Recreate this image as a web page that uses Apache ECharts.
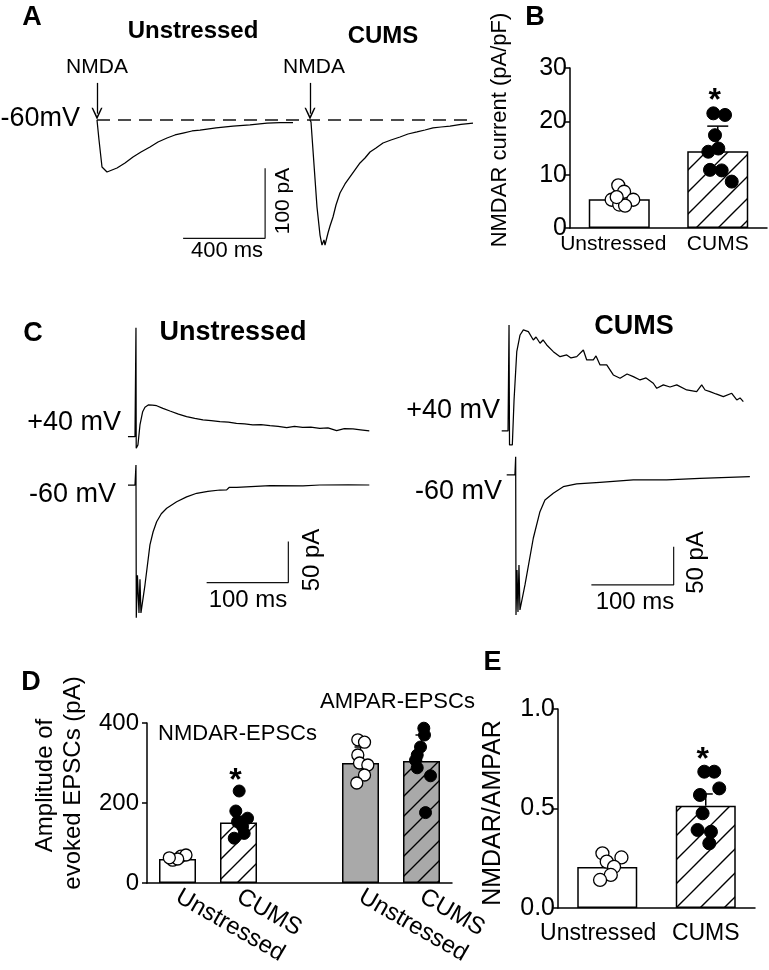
<!DOCTYPE html>
<html><head><meta charset="utf-8">
<script src="https://cdn.jsdelivr.net/npm/echarts@6/dist/echarts.min.js"></script>
<style>html,body{margin:0;padding:0;background:#fff}#c{width:769px;height:970px}</style>
</head><body><div id="c"></div><script>
// ---------------- DATA ----------------
// Panel A: whole-cell NMDA currents (time ms, current pA)
const aTraceUnstressed = [[0,0],[9.8,-28.6],[24.4,-67.1],[48.8,-74.3],[73.2,-71.4],[97.6,-68.6],[136.6,-61.4],[175.6,-52.9],[214.6,-45.7],[258.5,-38.6],[297.6,-31.4],[341.5,-25.7],[380.5,-21.4],[419.5,-18.6],[463.4,-15.7],[502.4,-14.3],[580.5,-11.4],[663.4,-8.6],[746.3,-7.1],[829.3,-4.3],[892.7,-3.6],[956.1,-3.6]];
const aTraceCums = [[0,0],[4.9,-2.9],[34.1,-124.3],[48.8,-164.3],[58.5,-178.6],[63.4,-181.4],[68.3,-171.4],[73.2,-178.6],[87.8,-161.4],[97.6,-151.4],[112.2,-138.6],[126.8,-121.4],[146.3,-104.3],[170.7,-91.4],[195.1,-81.4],[219.5,-71.4],[243.9,-61.4],[268.3,-54.3],[292.7,-45.7],[322,-40],[356.1,-32.9],[395.1,-28.6],[439,-24.3],[478,-20],[522,-17.1],[561,-14.3],[600,-11.4],[639,-10],[682.9,-8.6],[736.6,-6.4],[795.1,-4.3]];
const aBaseline = [[0,0],[1834,0]];
const aScaleMs = 400, aScalePa = 100;

// Panel C: evoked EPSCs (time ms, current pA)
const cUnsPos40 = [[-9.8,0],[-1.2,0],[0,133],[0.3,-14],[2.4,-10],[4.9,14.3],[8.2,30.5],[11,36],[15,38.7],[20,38.5],[25.3,37.8],[33,34.5],[41.6,31.3],[52,27.5],[62,24.4],[72,22.3],[82,20.4],[92,19.5],[102.8,18.3],[113,17.8],[123,16.3],[133,15.5],[143,14.3],[153,14.8],[164,13.4],[174,12.5],[184.5,11],[194,12.6],[204,11.5],[214,11.8],[225,10.2],[235,10.8],[245.6,7.3],[255,9.8],[265.6,9.4],[275,8.4],[285.6,7]];
const cUnsNeg60 = [[-9.8,0],[-1.2,0],[0,24.4],[0.4,-162],[1.8,-110],[3.7,-156],[4.9,-115],[6.1,-156],[11,-122],[17.1,-73],[21,-57],[25.3,-44.8],[31,-35],[37.6,-28.4],[49.8,-20.4],[62,-14.5],[74.3,-10.1],[88,-7.8],[102.8,-6.1],[111,-6],[114,-3],[123.3,-2.8],[164,-0.9],[204.4,-1.2],[225,0],[260,0.3],[285.6,0]];
const cCumsPos40 = [[-8.9,0],[-1.2,0],[0,138.4],[0.6,-18.3],[4,-18.3],[6.1,40.5],[9.4,103.5],[13.4,125.3],[17.4,131.9],[23.5,129.6],[29.5,118.8],[32.8,122.7],[37.7,114.5],[41.3,118.8],[45.8,112.3],[53.8,103.5],[62,97],[70.1,99.2],[75.3,95.3],[82.3,97],[90.3,105.7],[94.4,92.7],[102.4,92.7],[105.7,97.9],[110.6,86.2],[118.7,86.2],[126.7,73.1],[134.9,68.8],[143.4,74.4],[151,70.9],[159.2,66.6],[166.5,69.2],[175.3,62.3],[179.5,55.7],[187.5,60.1],[195.6,57.4],[203.8,60.1],[215.9,53.5],[228,51.3],[234.1,60.1],[238.2,53.5],[244.2,51.3],[251.5,48.3],[260.4,44.8],[270.6,49.2],[276.7,40.5],[280.7,43.1],[284.7,38.3]];
const cCumsNeg60 = [[-10.9,0],[-0.9,0],[0,23.9],[0.4,-182.8],[1.6,-124],[2.8,-178.9],[4,-117.5],[5.2,-176.2],[11.3,-143.6],[21.4,-82.6],[29.5,-47.9],[35.6,-32.6],[45.7,-23.9],[57.8,-15.3],[74.1,-11.7],[102.4,-9.5],[142.9,-6.5],[183.5,-6.5],[223.9,-4.3],[284.6,-2.2]];
const cScaleMs = 100, cScalePa = 50;

// Bar panels
const groups2 = ['Unstressed', 'CUMS'];
// B: NMDAR current (pA/pF)
const bMeans = [5.4, 14.4];
const bErr = [0.6, 4.7];
const bSig = [false, true];
const bPtsUns = [8.0, 6.8, 5.3, 5.3, 4.4, 4.2, 5.8];
const bPtsCums = [21.5, 21.2, 17.4, 14.9, 14.3, 10.9, 10.8, 8.7];
// D: amplitude of evoked EPSCs (pA)
const dCategories = ['Unstressed', 'CUMS', '', 'Unstressed', 'CUMS'];
const dMeans = [60, 151, null, 300, 305];
const dErr = [5, 16, null, 40, 65];
const dSig = [false, true, false, false, false];
const dPtsNmdaUns = [57, 67, 70, 60, 63];
const dPtsNmdaCums = [230, 180, 162, 153, 141, 112, 124];
const dPtsAmpaUns = [358, 352, 320, 300, 295, 270, 250];
const dPtsAmpaCums = [387, 370, 340, 320, 307, 288, 268, 176];
// E: NMDAR/AMPAR ratio
const eMeans = [0.206, 0.514];
const eErr = [0.02, 0.059];
const eSig = [false, true];
const ePtsUns = [0.275, 0.254, 0.233, 0.207, 0.166, 0.141];
const ePtsCums = [0.685, 0.685, 0.601, 0.568, 0.476, 0.392, 0.383, 0.325];

// horizontal jitter of dots (category units, layout only)
const jitBUns = [-0.01, 0.049, -0.077, 0.142, 0, 0.059, -0.026];
const jitBCums = [-0.045, 0.074, -0.028, 0.006, -0.096, -0.079, 0.04, 0.142];
const jitD0 = [-0.079, 0.057, 0.139, 0.003, -0.134];
const jitD1 = [0.011, -0.044, 0.148, -0.016, 0.066, -0.07, 0.093];
const jitD3 = [-0.044, 0.066, -0.044, -0.016, 0.12, 0.066, -0.061];
const jitD4 = [0.038, 0.049, -0.016, -0.07, -0.098, -0.07, 0.148, 0.066];
const jitEUns = [-0.049, 0.144, -0.005, 0.069, 0.036, -0.073];
const jitECums = [-0.015, 0.086, 0.137, -0.059, -0.032, -0.083, 0.053, 0.036];

// ---------------- HELPERS ----------------
const FONT = "'Liberation Sans', Arial, Helvetica, sans-serif";
const BLACK = '#000';
const GRAY = '#a9a9a9';

function hatch(bg, size) {
  const c = document.createElement('canvas');
  c.width = size; c.height = size;
  const g = c.getContext('2d');
  g.fillStyle = bg; g.fillRect(0, 0, size, size);
  g.strokeStyle = '#000'; g.lineWidth = 1.4;
  g.beginPath();
  g.moveTo(0, size); g.lineTo(size, 0);
  g.moveTo(-3, 3); g.lineTo(3, -3);
  g.moveTo(size - 3, size + 3); g.lineTo(size + 3, size - 3);
  g.stroke();
  return { image: c, repeat: 'repeat' };
}

function txt(text, x, y, size, o) {
  o = o || {};
  return {
    type: 'text', x: x, y: y, rotation: o.rot || 0, z: 100,
    style: { text: text, fontSize: size, fontWeight: o.bold ? 'bold' : 'normal', fontFamily: FONT,
      fill: BLACK, align: o.align || 'center', verticalAlign: 'middle' }
  };
}

function hiddenX(gi, min, max) { return { gridIndex: gi, type: 'value', min: min, max: max, show: false, axisLine: { onZero: false } }; }
function hiddenY(gi, min, max) { return { gridIndex: gi, type: 'value', min: min, max: max, show: false, axisLine: { onZero: false } }; }

function trace(data, xi, yi, extra) {
  return Object.assign({
    type: 'line', xAxisIndex: xi, yAxisIndex: yi, data: data, showSymbol: false, symbol: 'none',
    clip: false, silent: true, lineStyle: { color: BLACK, width: 1.25 }, z: 3
  }, extra || {});
}

function scaleBar(xi, yi, corner, ms, pa) {
  // corner = [t, pA] of the bottom-right corner of the L-shaped scale bar
  const d = [[corner[0] - ms, corner[1]], [corner[0], corner[1]], [corner[0], corner[1] + pa]];
  return trace(d, xi, yi, { lineStyle: { color: '#111', width: 1.2 } });
}

const ARROW = 'path://M0,12 L6,0 L12,12 L10.4,12 L6,3.6 L1.6,12 Z';
function arrowMark(top, tip) {
  return {
    silent: true, symbol: ['none', ARROW], symbolSize: [11, 12], animation: false,
    label: { show: false }, lineStyle: { color: BLACK, width: 1.3, type: 'solid' },
    data: [[{ coord: [0, top] }, { coord: [0, tip] }]]
  };
}

function pts(i, vals, jit) { return vals.map(function (v, k) { return [i + jit[k], v]; }); }

function dots(xi, yi, data, filled, size) {
  return {
    type: 'scatter', xAxisIndex: xi, yAxisIndex: yi, data: data, symbolSize: size, z: 5, silent: true,
    itemStyle: filled ? { color: BLACK, borderColor: BLACK, borderWidth: 1, opacity: 1 }
                      : { color: '#fff', borderColor: BLACK, borderWidth: 1.3, opacity: 1 }
  };
}

function errSeries(xi, yi, means, errs, sig, ptsList, cap, starGap) {
  const data = [];
  means.forEach(function (m, i) {
    if (m == null) return;
    const top = ptsList[i] ? Math.max.apply(null, ptsList[i]) : m + errs[i];
    data.push([i, m, errs[i], sig[i] ? 1 : 0, top]);
  });
  return {
    type: 'custom', xAxisIndex: xi, yAxisIndex: yi, data: data, z: 4, silent: true,
    encode: { x: 0, y: 1 },
    renderItem: function (params, api) {
      const i = api.value(0), m = api.value(1), e = api.value(2), s = api.value(3), top = api.value(4);
      const a = api.coord([i, m]), b = api.coord([i, m + e]);
      const st = { stroke: BLACK, lineWidth: 1.5 };
      const ch = [
        { type: 'line', shape: { x1: a[0], y1: a[1], x2: b[0], y2: b[1] }, style: st },
        { type: 'line', shape: { x1: b[0] - cap / 2, y1: b[1], x2: b[0] + cap / 2, y2: b[1] }, style: st }
      ];
      if (s) {
        const t = api.coord([i, top]);
        ch.push({ type: 'text', x: b[0] - 3, y: t[1] - starGap,
          style: { text: '*', fontSize: 32, fontWeight: 'bold', fontFamily: FONT, fill: BLACK, align: 'center', verticalAlign: 'middle' } });
      }
      return { type: 'group', children: ch };
    }
  };
}

function barSeries(xi, yi, means, colors, width) {
  return {
    type: 'bar', xAxisIndex: xi, yAxisIndex: yi, barWidth: width, z: 2, silent: true,
    data: means.map(function (m, i) {
      return m == null ? '-' : { value: m, itemStyle: { color: colors[i], borderColor: BLACK, borderWidth: 1.5 } };
    })
  };
}

const axLine = { show: true, onZero: false, lineStyle: { color: BLACK, width: 1.5 } };
const axTick = { show: true, length: 5, lineStyle: { color: BLACK, width: 1.5 } };
// category label helper: shift "Unstressed" a little left as in the figure
function shiftedLabels(fs, margin, pad) {
  return {
    fontSize: fs, margin: margin, color: BLACK, fontFamily: FONT, interval: 0,
    formatter: function (v) { return v === 'Unstressed' ? '{u|' + v + '}' : v; },
    rich: { u: { fontSize: fs, fontFamily: FONT, color: BLACK, padding: [0, pad, 0, 0] } }
  };
}

// ---------------- OPTION ----------------
const chart = echarts.init(document.getElementById('c'), null, { renderer: 'canvas' });

const grids = [
  { left: 97, top: 78, width: 376, height: 182 },        // 0 A unstressed
  { left: 310, top: 78, width: 164, height: 182 },       // 1 A CUMS
  { left: 570, top: 68, width: 197, height: 160 },       // 2 B
  { left: 127.8, top: 321.9, width: 245.1, height: 131.2 }, // 3 C unstressed +40
  { left: 127.8, top: 460.4, width: 245.1, height: 164 },   // 4 C unstressed -60
  { left: 500.8, top: 319.9, width: 246.9, height: 130.2 }, // 5 C CUMS +40
  { left: 505.8, top: 452, width: 248.5, height: 168.5 },   // 6 C CUMS -60
  { left: 147, top: 723, width: 305, height: 160 },      // 7 D
  { left: 558, top: 709, width: 197, height: 199 }       // 8 E
];

const xAxes = [
  hiddenX(0, 0, 1834),
  hiddenX(1, 0, 800),
  { gridIndex: 2, type: 'category', data: groups2, axisLine: axLine, axisTick: { show: false },
    axisLabel: shiftedLabels(21, 6, 12) },
  hiddenX(2, -0.5, 1.5),
  hiddenX(3, -10, 290),
  hiddenX(4, -10, 290),
  hiddenX(5, -10, 290),
  hiddenX(6, -12, 290),
  { gridIndex: 7, type: 'category', data: dCategories, axisLine: axLine, axisTick: { show: false },
    axisLabel: { fontSize: 24, margin: 12, rotate: -30, color: BLACK, fontFamily: FONT, interval: 0 } },
  hiddenX(7, -0.5, 4.5),
  { gridIndex: 8, type: 'category', data: groups2, axisLine: axLine, axisTick: { show: false },
    axisLabel: shiftedLabels(23, 14, 18) },
  hiddenX(8, -0.5, 1.5)
];

function valY(gi, min, max, interval, fs, margin, fmt) {
  return { gridIndex: gi, type: 'value', min: min, max: max, interval: interval, axisLine: axLine, axisTick: axTick,
    splitLine: { show: false },
    axisLabel: { fontSize: fs, margin: margin, color: BLACK, fontFamily: FONT, formatter: fmt } };
}

const yAxes = [
  hiddenY(0, -200, 60),
  hiddenY(1, -200, 60),
  valY(2, 0, 30, 10, 25, 3),
  hiddenY(3, -20, 140),
  hiddenY(4, -170, 30),
  hiddenY(5, -25, 145),
  hiddenY(6, -190, 30),
  valY(7, 0, 400, 200, 24, 8),
  valY(8, 0, 1, 0.5, 25, 3, function (v) { return v.toFixed(1); })
];

const series = [
  // Panel A
  trace(aBaseline, 0, 0, { lineStyle: { color: '#111', width: 1.3, type: [13, 8] } }),
  trace(aTraceUnstressed, 0, 0, { markLine: arrowMark(53, 9) }),
  trace(aTraceCums, 1, 1, { markLine: arrowMark(53, 9) }),
  scaleBar(0, 0, [820, -169], aScaleMs, aScalePa),
  // Panel B
  barSeries(2, 2, bMeans, ['#fff', hatch('#fff', 22)], 61),
  errSeries(2, 2, bMeans, bErr, bSig, [bPtsUns, bPtsCums], 21, 12),
  dots(3, 2, pts(0, bPtsUns, jitBUns), false, 13),
  dots(3, 2, pts(1, bPtsCums, jitBCums), true, 13),
  // Panel C
  trace(cUnsPos40, 4, 3),
  trace(cUnsNeg60, 5, 4),
  trace(cCumsPos40, 6, 5),
  trace(cCumsNeg60, 7, 6),
  scaleBar(5, 4, [186.5, -119], cScaleMs, cScalePa),
  scaleBar(7, 6, [192, -143.6], cScaleMs, cScalePa),
  // Panel D
  barSeries(8, 7, dMeans, ['#fff', hatch('#fff', 20), null, GRAY, hatch(GRAY, 20)], 37),
  errSeries(8, 7, dMeans, dErr, dSig, [dPtsNmdaUns, dPtsNmdaCums, null, dPtsAmpaUns, dPtsAmpaCums], 12, 10),
  dots(9, 7, pts(0, dPtsNmdaUns, jitD0), false, 12),
  dots(9, 7, pts(1, dPtsNmdaCums, jitD1), true, 12),
  dots(9, 7, pts(3, dPtsAmpaUns, jitD3), false, 12),
  dots(9, 7, pts(4, dPtsAmpaCums, jitD4), true, 12),
  // Panel E
  barSeries(10, 8, eMeans, ['#fff', hatch('#fff', 24)], 60),
  errSeries(10, 8, eMeans, eErr, eSig, [ePtsUns, ePtsCums], 14, 12),
  dots(11, 8, pts(0, ePtsUns, jitEUns), false, 13),
  dots(11, 8, pts(1, ePtsCums, jitECums), true, 13)
];

const R = Math.PI / 2;
const graphic = [
  // Panel A
  txt('A', 32, 17.5, 27, { bold: true }),
  txt('Unstressed', 193, 31.5, 24, { bold: true }),
  txt('CUMS', 383, 36.5, 24, { bold: true }),
  txt('NMDA', 97, 67.5, 21),
  txt('NMDA', 314, 67.5, 21),
  txt('-60mV', 80, 118.5, 27, { align: 'right' }),
  txt('100 pA', 283, 201, 21, { rot: R }),
  txt('400 ms', 227, 251, 22),
  // Panel B
  txt('B', 535, 17.5, 27, { bold: true }),
  txt('NMDAR current (pA/pF)', 500, 130, 22, { rot: R }),
  // Panel C
  txt('C', 33, 334, 27, { bold: true }),
  txt('Unstressed', 233, 333, 27, { bold: true }),
  txt('CUMS', 634, 327, 27, { bold: true }),
  txt('+40 mV', 121, 423, 27, { align: 'right' }),
  txt('-60 mV', 116, 495, 27, { align: 'right' }),
  txt('+40 mV', 500, 411, 27, { align: 'right' }),
  txt('-60 mV', 502, 492, 27, { align: 'right' }),
  txt('100 ms', 248, 600, 24),
  txt('50 pA', 312, 560, 24, { rot: R }),
  txt('100 ms', 635, 602, 24),
  txt('50 pA', 696, 562.5, 24, { rot: R }),
  // Panel D
  txt('D', 31, 683, 27, { bold: true }),
  txt('Amplitude of', 45, 785.5, 24, { rot: R }),
  txt('evoked EPSCs (pA)', 73, 783, 24, { rot: R }),
  txt('NMDAR-EPSCs', 237.5, 733.5, 22),
  txt('AMPAR-EPSCs', 397.5, 701.5, 22),
  // Panel E
  txt('E', 492.5, 662.5, 27, { bold: true }),
  txt('NMDAR/AMPAR', 493, 813, 25, { rot: R })
];

chart.setOption({
  backgroundColor: '#fff',
  animation: false,
  textStyle: { fontFamily: FONT, color: BLACK },
  grid: grids,
  xAxis: xAxes,
  yAxis: yAxes,
  series: series,
  graphic: graphic
});
</script></body></html>
